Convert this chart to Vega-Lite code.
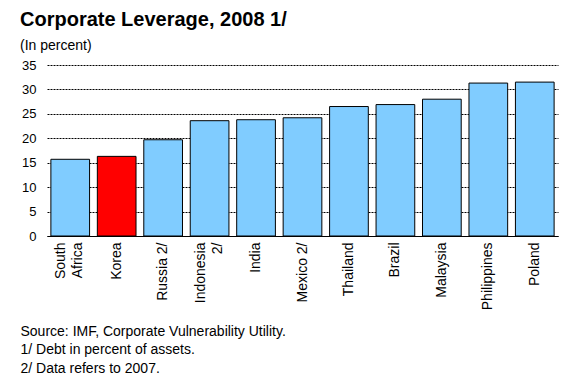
{
  "$schema": "https://vega.github.io/schema/vega-lite/v6.json",
  "width": 511,
  "height": 171,
  "autosize": {"type": "none"},
  "padding": {"left": 47, "top": 65, "right": 4, "bottom": 149},
  "background": "white",
  "title": {
    "text": "Corporate Leverage, 2008 1/",
    "subtitle": "(In percent)",
    "anchor": "start",
    "frame": "group",
    "dx": -27,
    "font": "Liberation Sans",
    "fontSize": 20,
    "fontWeight": "bold",
    "color": "black",
    "subtitleFont": "Liberation Sans",
    "subtitleFontSize": 14,
    "subtitleColor": "black",
    "subtitlePadding": 9,
    "offset": 6
  },
  "data": {
    "values": [
      {"country": "South Africa", "value": 15.7},
      {"country": "Korea", "value": 16.3},
      {"country": "Russia 2/", "value": 19.7},
      {"country": "Indonesia 2/", "value": 23.6},
      {"country": "India", "value": 23.8},
      {"country": "Mexico 2/", "value": 24.2},
      {"country": "Thailand", "value": 26.5},
      {"country": "Brazil", "value": 26.9},
      {"country": "Malaysia", "value": 28.0},
      {"country": "Philippines", "value": 31.3},
      {"country": "Poland", "value": 31.5}
    ]
  },
  "mark": {"type": "bar", "stroke": "black", "strokeWidth": 1},
  "encoding": {
    "x": {
      "field": "country",
      "type": "nominal",
      "sort": null,
      "scale": {"paddingInner": 0.167, "paddingOuter": 0.0835},
      "axis": {
        "title": ["Source: IMF, Corporate Vulnerability Utility.", "1/ Debt in percent of assets.", "2/ Data refers to 2007."],
        "labelAngle": -90,
        "labelAlign": "right",
        "labelBaseline": "middle",
        "labelFont": "Liberation Sans",
        "labelFontSize": 14,
        "labelColor": "black",
        "labelPadding": 6,
        "labelLineHeight": 17,
        "labelLimit": 0,
        "labelOffset": {"condition": {"test": "datum.value == 'South Africa' || datum.value == 'Indonesia 2/'", "value": -9}, "value": 0},
        "labelExpr": "datum.value == 'South Africa' ? ['South', 'Africa'] : datum.value == 'Indonesia 2/' ? ['Indonesia', '2/'] : datum.label",
        "ticks": false,
        "domain": true,
        "domainColor": "black",
        "domainWidth": 1,
        "titleFont": "Liberation Sans",
        "titleFontSize": 14,
        "titleFontWeight": "normal",
        "titleColor": "black",
        "titleAnchor": "start",
        "titleAlign": "left",
        "titleBaseline": "alphabetic",
        "titleX": -27,
        "titleY": 99,
        "titleLineHeight": 18.5
      }
    },
    "y": {
      "field": "value",
      "type": "quantitative",
      "scale": {"domain": [0, 35]},
      "axis": {
        "title": null,
        "values": [0, 5, 10, 15, 20, 25, 30, 35],
        "ticks": false,
        "domain": false,
        "grid": true,
        "gridColor": "black",
        "gridDash": [2, 1],
        "gridWidth": 1,
        "labelFont": "Liberation Sans",
        "labelFontSize": 13,
        "labelColor": "black",
        "labelPadding": 11
      }
    },
    "color": {
      "condition": {"test": "datum.country === 'Korea'", "value": "#FF0000"},
      "value": "#80CCFF"
    }
  },
  "config": {"view": {"stroke": null}}
}
